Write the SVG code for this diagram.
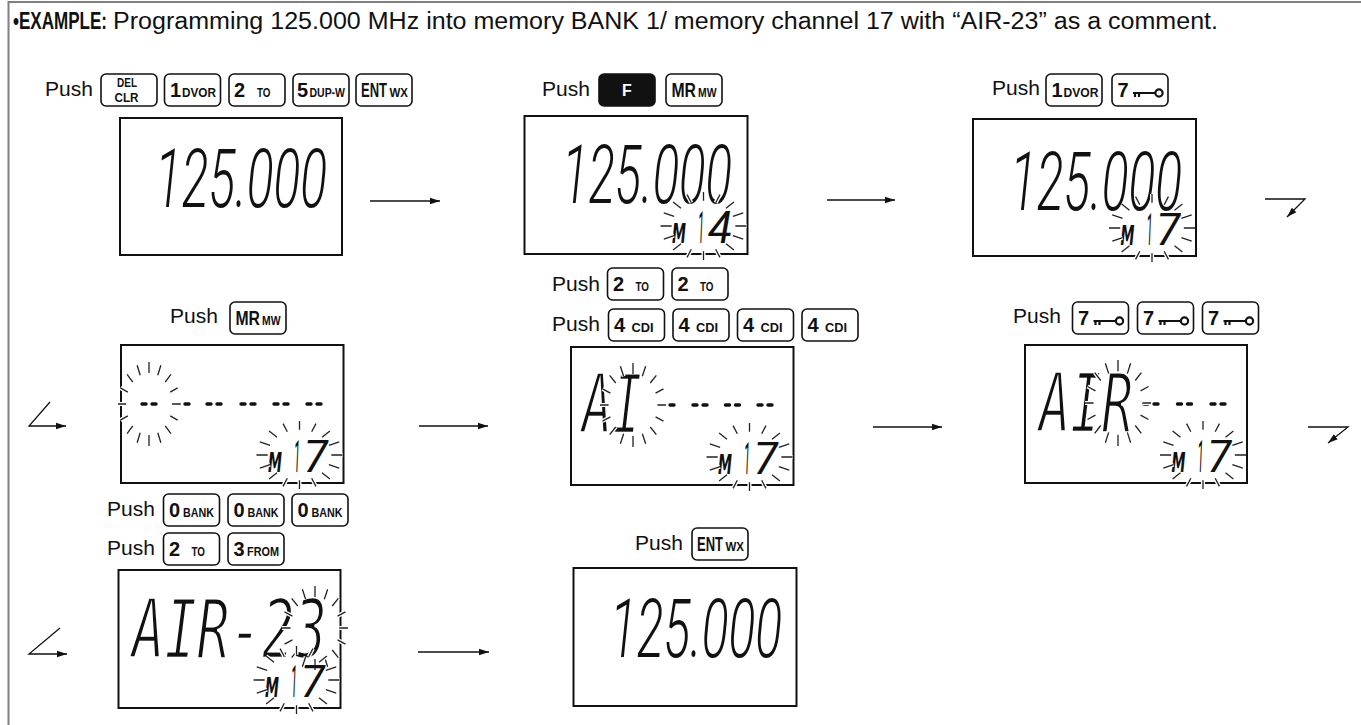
<svg xmlns="http://www.w3.org/2000/svg" xmlns:xlink="http://www.w3.org/1999/xlink" width="1361" height="725" viewBox="0 0 1361 725">
<style>
.frame{fill:none;stroke:#808080;stroke-width:2}
.tb{font-family:"Liberation Sans",Arial,sans-serif;font-weight:bold;font-size:23px;fill:#111}
.tt{font-family:"Liberation Sans",Arial,sans-serif;font-size:23px;fill:#111}
.push{font-family:"Liberation Sans",Arial,sans-serif;font-size:21px;fill:#111}
.key{fill:#fff;stroke:#111;stroke-width:1.6}
.keyf{fill:#111;stroke:#111;stroke-width:1.6}
.kb{font-family:"Liberation Sans",Arial,sans-serif;font-weight:bold;font-size:20px;fill:#111}
.ks{font-family:"Liberation Sans",Arial,sans-serif;font-weight:bold;font-size:12px;fill:#111}
.kw{font-family:"Liberation Sans",Arial,sans-serif;font-weight:bold;font-size:16px;fill:#fff}
.lcd{fill:#fff;stroke:#111;stroke-width:2}
.dig{font-family:Roboto,"DejaVu Sans Condensed",sans-serif;font-weight:300;font-style:italic;font-size:82px;fill:#111}
.alp{font-family:"DejaVu Sans Mono",monospace;font-style:oblique;font-size:82px;fill:#111;stroke:#fff;stroke-width:2.4}
.chm{font-family:"DejaVu Sans Condensed","DejaVu Sans",sans-serif;font-weight:bold;font-style:oblique;font-size:26px;fill:#111}
.chd{font-family:Roboto,"DejaVu Sans Condensed",sans-serif;font-style:italic;font-size:44px;fill:#111}
.blank{fill:none;stroke:#111;stroke-width:3.4;stroke-linecap:round}
.fh{fill:none;stroke:#fff;stroke-width:4}
.fl{fill:none;stroke:#222;stroke-width:1.3}
.arr{fill:none;stroke:#111;stroke-width:1.3;marker-end:url(#ah)}
.ki{fill:none;stroke:#111;stroke-width:2.2}
</style>
<defs>
<marker id="ah" markerWidth="11" markerHeight="8" refX="10" refY="4" orient="auto" markerUnits="userSpaceOnUse"><path d="M0,0.8 L10,4 L0,7.2 z" fill="#111"/></marker>
<path id="ray" vector-effect="non-scaling-stroke" d="M0.74,0L1,0M0.6837,0.2832L0.9239,0.3827M0.5233,0.5233L0.7071,0.7071M0.2832,0.6837L0.3827,0.9239M0,0.74L0,1M-0.2832,0.6837L-0.3827,0.9239M-0.5233,0.5233L-0.7071,0.7071M-0.6837,0.2832L-0.9239,0.3827M-0.74,0L-1,0M-0.6837,-0.2832L-0.9239,-0.3827M-0.5233,-0.5233L-0.7071,-0.7071M-0.2832,-0.6837L-0.3827,-0.9239M0,-0.74L0,-1M0.2832,-0.6837L0.3827,-0.9239M0.5233,-0.5233L0.7071,-0.7071M0.6837,-0.2832L0.9239,-0.3827"/>
<g id="flash"><use xlink:href="#ray" class="fh"/><use xlink:href="#ray" class="fl"/></g>
<g id="blk"><path class="blank" d="M-7,0H-3M3,0H7"/></g>
<g id="keyic"><path class="ki" d="M0,0H22M2,0V4M6,0V4"/><circle class="ki" cx="26" cy="0" r="3.6"/></g>
</defs>

<path class="frame" d="M1361,2H8.5V725"/>

<g id="title">
<text class="tb" transform="translate(13,29) scale(0.74,1)" textLength="127" lengthAdjust="spacingAndGlyphs">•EXAMPLE:</text>
<text class="tt" x="113" y="29" textLength="1105" lengthAdjust="spacingAndGlyphs">Programming 125.000 MHz into memory BANK 1/ memory channel 17 with “AIR-23” as a comment.</text>
</g>

<!-- Step 1 -->
<g id="step1">
<text class="push" x="45" y="96">Push</text>
<rect class="key" x="101" y="74" width="56" height="32" rx="5"/>
<text class="ks" text-anchor="middle"><tspan x="127" y="87" textLength="20" lengthAdjust="spacingAndGlyphs">DEL</tspan><tspan x="126.5" y="102" textLength="24" lengthAdjust="spacingAndGlyphs">CLR</tspan></text>
<rect class="key" x="164.5" y="74" width="56" height="32" rx="5"/>
<text class="kb" x="170" y="97">1<tspan class="ks" x="182" textLength="34" lengthAdjust="spacingAndGlyphs">DVOR</tspan></text>
<rect class="key" x="229" y="74" width="56" height="32" rx="5"/>
<text class="kb" x="234" y="97">2<tspan class="ks" x="257" textLength="13.5" lengthAdjust="spacingAndGlyphs">TO</tspan></text>
<rect class="key" x="293" y="74" width="56" height="32" rx="5"/>
<text class="kb" x="297" y="97">5<tspan class="ks" x="309.5" textLength="35.5" lengthAdjust="spacingAndGlyphs">DUP-W</tspan></text>
<rect class="key" x="356" y="74" width="56" height="32" rx="5"/>
<text class="kb" transform="translate(361,97) scale(0.65,1)" textLength="40" lengthAdjust="spacingAndGlyphs">ENT</text>
<text class="ks" x="389.5" y="97" textLength="18.5" lengthAdjust="spacingAndGlyphs">WX</text>
<rect class="lcd" x="120" y="118" width="222" height="137"/>
<text class="dig" transform="translate(155,207) scale(0.578,1)" textLength="297.6" lengthAdjust="spacingAndGlyphs">125.000</text>
</g>

<!-- Step 2 -->
<g id="step2">
<text class="push" x="542" y="96">Push</text>
<rect class="keyf" x="599" y="74" width="56" height="32" rx="5"/>
<text class="kw" x="627" y="96" text-anchor="middle">F</text>
<rect class="key" x="666" y="74" width="56" height="32" rx="5"/>
<text class="kb" font-size="18" transform="translate(671.5,97) scale(0.875,1)" textLength="28" lengthAdjust="spacingAndGlyphs">MR</text>
<text class="ks" x="698" y="97" font-size="11.5" textLength="18.5" lengthAdjust="spacingAndGlyphs">MW</text>
<rect class="lcd" x="524.5" y="116" width="223" height="138"/>
<text class="dig" transform="translate(562,203) scale(0.578,1)" textLength="294" lengthAdjust="spacingAndGlyphs">125.000</text>
<text class="chm" transform="translate(672,243) scale(0.6,1)" textLength="23.3" lengthAdjust="spacingAndGlyphs">M</text>
<text class="chd" transform="translate(698,243) scale(0.243,1)" textLength="24.7" lengthAdjust="spacingAndGlyphs">1</text>
<text class="chd" x="708" y="243" textLength="24" lengthAdjust="spacingAndGlyphs">4</text>
<use xlink:href="#flash" transform="translate(703.5,226) scale(43,34)"/>
</g>

<!-- Step 3 -->
<g id="step3">
<text class="push" x="992" y="95">Push</text>
<rect class="key" x="1046" y="74" width="56" height="32" rx="5"/>
<text class="kb" x="1051.5" y="97">1<tspan class="ks" x="1063.5" textLength="35" lengthAdjust="spacingAndGlyphs">DVOR</tspan></text>
<rect class="key" x="1112" y="74" width="56" height="32" rx="5"/>
<text class="kb" x="1117.5" y="97">7</text><use xlink:href="#keyic" x="1133" y="93"/>
<rect class="lcd" x="973" y="119" width="223" height="137"/>
<text class="dig" transform="translate(1010,210) scale(0.578,1)" textLength="297.6" lengthAdjust="spacingAndGlyphs">125.000</text>
<text class="chm" transform="translate(1120.5,245) scale(0.6,1)" textLength="23.3" lengthAdjust="spacingAndGlyphs">M</text>
<text class="chd" transform="translate(1146.5,245) scale(0.243,1)" textLength="24.7" lengthAdjust="spacingAndGlyphs">1</text>
<text class="chd" x="1156" y="245" textLength="24" lengthAdjust="spacingAndGlyphs">7</text>
<use xlink:href="#flash" transform="translate(1152,228) scale(43,34)"/>
</g>

<!-- Step 4 -->
<g id="step4">
<text class="push" x="170" y="323">Push</text>
<rect class="key" x="230" y="302" width="56" height="32" rx="5"/>
<text class="kb" font-size="18" transform="translate(235.5,325) scale(0.875,1)" textLength="28" lengthAdjust="spacingAndGlyphs">MR</text>
<text class="ks" x="262" y="325" font-size="11.5" textLength="18.5" lengthAdjust="spacingAndGlyphs">MW</text>
<rect class="lcd" x="121" y="345" width="222.5" height="138"/>
<use xlink:href="#blk" x="149" y="404"/>
<use xlink:href="#blk" x="182" y="404"/>
<use xlink:href="#blk" x="214" y="404"/>
<use xlink:href="#blk" x="248" y="404"/>
<use xlink:href="#blk" x="281" y="404"/>
<use xlink:href="#blk" x="314" y="404"/>
<use xlink:href="#flash" transform="translate(149,404) scale(31,42)"/>
<text class="chm" transform="translate(268,472) scale(0.6,1)" textLength="23.3" lengthAdjust="spacingAndGlyphs">M</text>
<text class="chd" transform="translate(294,472) scale(0.243,1)" textLength="24.7" lengthAdjust="spacingAndGlyphs">1</text>
<text class="chd" x="303.5" y="472" textLength="24" lengthAdjust="spacingAndGlyphs">7</text>
<use xlink:href="#flash" transform="translate(299.5,455) scale(43,34)"/>
</g>

<!-- Step 5 -->
<g id="step5">
<text class="push" x="552" y="291">Push</text>
<rect class="key" x="607.5" y="268" width="56" height="32" rx="5"/>
<text class="kb" x="613" y="291">2<tspan class="ks" x="635.5" textLength="13.5" lengthAdjust="spacingAndGlyphs">TO</tspan></text>
<rect class="key" x="672" y="268" width="56" height="32" rx="5"/>
<text class="kb" x="677.5" y="291">2<tspan class="ks" x="700" textLength="13.5" lengthAdjust="spacingAndGlyphs">TO</tspan></text>
<text class="push" x="552" y="331">Push</text>
<rect class="key" x="608.5" y="309" width="56" height="32" rx="5"/>
<text class="kb" x="614" y="332">4<tspan class="ks" x="631.5" textLength="22" lengthAdjust="spacingAndGlyphs">CDI</tspan></text>
<rect class="key" x="673" y="309" width="56" height="32" rx="5"/>
<text class="kb" x="678.5" y="332">4<tspan class="ks" x="696" textLength="22" lengthAdjust="spacingAndGlyphs">CDI</tspan></text>
<rect class="key" x="737.5" y="309" width="56" height="32" rx="5"/>
<text class="kb" x="743" y="332">4<tspan class="ks" x="760.5" textLength="22" lengthAdjust="spacingAndGlyphs">CDI</tspan></text>
<rect class="key" x="802" y="309" width="56" height="32" rx="5"/>
<text class="kb" x="807.5" y="332">4<tspan class="ks" x="825" textLength="22" lengthAdjust="spacingAndGlyphs">CDI</tspan></text>
<rect class="lcd" x="571" y="347" width="222.5" height="138"/>
<text class="alp" transform="translate(582,433) scale(0.608,1)" textLength="98.7" lengthAdjust="spacingAndGlyphs">AI</text>
<use xlink:href="#blk" x="667" y="405"/>
<use xlink:href="#blk" x="700" y="405"/>
<use xlink:href="#blk" x="732.5" y="405"/>
<use xlink:href="#blk" x="765" y="405"/>
<use xlink:href="#flash" transform="translate(633,405) scale(33,42)"/>
<text class="chm" transform="translate(718,474) scale(0.6,1)" textLength="23.3" lengthAdjust="spacingAndGlyphs">M</text>
<text class="chd" transform="translate(744,474) scale(0.243,1)" textLength="24.7" lengthAdjust="spacingAndGlyphs">1</text>
<text class="chd" x="753.5" y="474" textLength="24" lengthAdjust="spacingAndGlyphs">7</text>
<use xlink:href="#flash" transform="translate(749.5,457) scale(43,34)"/>
</g>

<!-- Step 6 -->
<g id="step6">
<text class="push" x="1013" y="323">Push</text>
<rect class="key" x="1072.5" y="302" width="56" height="32" rx="5"/>
<text class="kb" x="1078" y="325">7</text><use xlink:href="#keyic" x="1093.5" y="321"/>
<rect class="key" x="1137.5" y="302" width="56" height="32" rx="5"/>
<text class="kb" x="1143" y="325">7</text><use xlink:href="#keyic" x="1158.5" y="321"/>
<rect class="key" x="1202.5" y="302" width="56" height="32" rx="5"/>
<text class="kb" x="1208" y="325">7</text><use xlink:href="#keyic" x="1223.5" y="321"/>
<rect class="lcd" x="1025" y="345" width="222" height="138"/>
<text class="alp" transform="translate(1039,432) scale(0.635,1)" textLength="148" lengthAdjust="spacingAndGlyphs">AIR</text>
<use xlink:href="#blk" x="1151" y="404"/>
<use xlink:href="#blk" x="1184.5" y="404"/>
<use xlink:href="#blk" x="1218" y="404"/>
<use xlink:href="#flash" transform="translate(1118,403) scale(33,43)"/>
<text class="chm" transform="translate(1171.5,472) scale(0.6,1)" textLength="23.3" lengthAdjust="spacingAndGlyphs">M</text>
<text class="chd" transform="translate(1197.5,472) scale(0.243,1)" textLength="24.7" lengthAdjust="spacingAndGlyphs">1</text>
<text class="chd" x="1207" y="472" textLength="24" lengthAdjust="spacingAndGlyphs">7</text>
<use xlink:href="#flash" transform="translate(1203,455) scale(43,34)"/>
</g>

<!-- Step 7 -->
<g id="step7">
<text class="push" x="107" y="516">Push</text>
<rect class="key" x="163.5" y="494" width="56" height="32" rx="5"/>
<text class="kb" x="169" y="517">0<tspan class="ks" x="183" textLength="31" lengthAdjust="spacingAndGlyphs">BANK</tspan></text>
<rect class="key" x="228" y="494" width="56" height="32" rx="5"/>
<text class="kb" x="233.5" y="517">0<tspan class="ks" x="247.5" textLength="31" lengthAdjust="spacingAndGlyphs">BANK</tspan></text>
<rect class="key" x="292" y="494" width="56" height="32" rx="5"/>
<text class="kb" x="297.5" y="517">0<tspan class="ks" x="311.5" textLength="31" lengthAdjust="spacingAndGlyphs">BANK</tspan></text>
<text class="push" x="107" y="555">Push</text>
<rect class="key" x="163.5" y="533" width="56" height="32" rx="5"/>
<text class="kb" x="169" y="556">2<tspan class="ks" x="191.5" textLength="13.5" lengthAdjust="spacingAndGlyphs">TO</tspan></text>
<rect class="key" x="228" y="533" width="56" height="32" rx="5"/>
<text class="kb" x="233.5" y="556">3<tspan class="ks" x="247" textLength="32" lengthAdjust="spacingAndGlyphs">FROM</tspan></text>
<rect class="lcd" x="118.5" y="570" width="222" height="138"/>
<text class="alp" transform="translate(132,658) scale(0.658,1)" textLength="296.3" lengthAdjust="spacingAndGlyphs">AIR-23</text>
<use xlink:href="#flash" transform="translate(315,628) scale(33,42)"/>
<text class="chm" transform="translate(265,697) scale(0.6,1)" textLength="23.3" lengthAdjust="spacingAndGlyphs">M</text>
<text class="chd" transform="translate(291,697) scale(0.243,1)" textLength="24.7" lengthAdjust="spacingAndGlyphs">1</text>
<text class="chd" x="300.5" y="697" textLength="24" lengthAdjust="spacingAndGlyphs">7</text>
<use xlink:href="#flash" transform="translate(296.5,680) scale(43,34)"/>
</g>

<!-- Step 8 -->
<g id="step8">
<text class="push" x="635" y="550">Push</text>
<rect class="key" x="692" y="528" width="56" height="32" rx="5"/>
<text class="kb" transform="translate(697,551) scale(0.65,1)" textLength="40" lengthAdjust="spacingAndGlyphs">ENT</text>
<text class="ks" x="725.5" y="551" textLength="18.5" lengthAdjust="spacingAndGlyphs">WX</text>
<rect class="lcd" x="573.5" y="568" width="223" height="138"/>
<text class="dig" transform="translate(610,657) scale(0.578,1)" textLength="297.6" lengthAdjust="spacingAndGlyphs">125.000</text>
</g>

<g id="connectors">
<path class="arr" d="M370,201H440"/>
<path class="arr" d="M827,200H895"/>
<path class="arr" d="M1265,199H1305L1287,217"/>
<path class="arr" d="M50,402L29,426H66"/>
<path class="arr" d="M419,426H488"/>
<path class="arr" d="M873,427H942"/>
<path class="arr" d="M1308,427H1348L1328,443"/>
<path class="arr" d="M60,628L29,654H67"/>
<path class="arr" d="M418,652H489"/>
</g>
</svg>
